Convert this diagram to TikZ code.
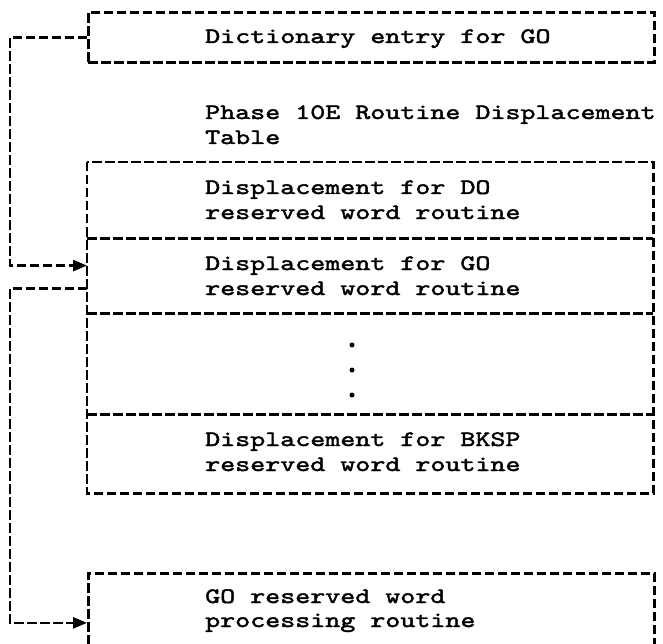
\documentclass[tikz,border=0pt]{standalone}
\usepackage{fontspec}
\newfontfamily\ibmfont[Extension=.otf, FakeBold=2, FakeStretch=1.3]{lmmono10-regular}
\usetikzlibrary{arrows.meta}

\tikzset{
  dashline/.style={line width=2.6pt, dash pattern=on 9.5pt off 3.5pt},
  frame/.style={draw, dashline, inner sep=0pt, minimum width=566pt, anchor=north west},
  rowbox/.style={inner sep=0pt, minimum width=566pt, anchor=north west},
  txt/.style={anchor=base west, inner sep=0pt, font=\ibmfont\fontsize{22}{25}\selectfont},
  conn/.style={dashline, -{Triangle[length=14pt,width=11pt]}},
  dot/.style={circle, fill, inner sep=0pt, minimum size=5pt},
}

\begin{document}
\begin{tikzpicture}[x=1pt,y=-1pt]
\path[use as bounding box, clip] (0,0) rectangle (663,644);

% dictionary entry
\node[frame, minimum height=50pt] (dict) at (87,11) {};
\node[txt] (dicttxt) at (205,43) {Dictionary entry for GO};

% table heading
\node[txt] (head1) at (205,119) {Phase 10E Routine Displacement};
\node[txt] (head2) at (205,144) {Table};

% displacement table rows
\node[rowbox, minimum height=76pt] (row1) at (87,162) {};
\node[rowbox, minimum height=75pt] (row2) at (87,238) {};
\node[rowbox, minimum height=101pt] (row3) at (87,313) {};
\node[rowbox, minimum height=79pt] (row4) at (87,414) {};
\draw[dashline] (row1.north west) rectangle (row4.south east);
\draw[dashline] (row1.south west) -- (row1.south east);
\draw[dashline] (row2.south west) -- (row2.south east);
\draw[dashline] (row3.south west) -- (row3.south east);

\node[txt] (t1a) at (205,194) {Displacement for DO};
\node[txt] (t1b) at (205,219) {reserved word routine};
\node[txt] (t2a) at (205,270) {Displacement for GO};
\node[txt] (t2b) at (205,295) {reserved word routine};
\node[dot] (d1) at (352,345) {};
\node[dot] (d2) at (352,370) {};
\node[dot] (d3) at (352,395) {};
\node[txt] (t4a) at (205,446) {Displacement for BKSP};
\node[txt] (t4b) at (205,471) {reserved word routine};

% processing routine (its lower edge runs off the page)
\node[frame, minimum height=80pt] (proc) at (87,572) {};
\node[txt] (p1) at (205,603) {GO reserved word};
\node[txt] (p2) at (205,627) {processing routine};

% connectors
\coordinate (rail) at (10,0);
\draw[conn] (dict.west) -- (dict.west -| rail) |- (row2.west |- t2a.west);
\draw[conn] (row2.west |- t2b.west) -- (rail |- t2b.west) |- (proc.west |- p2.west);
\end{tikzpicture}
\end{document}
